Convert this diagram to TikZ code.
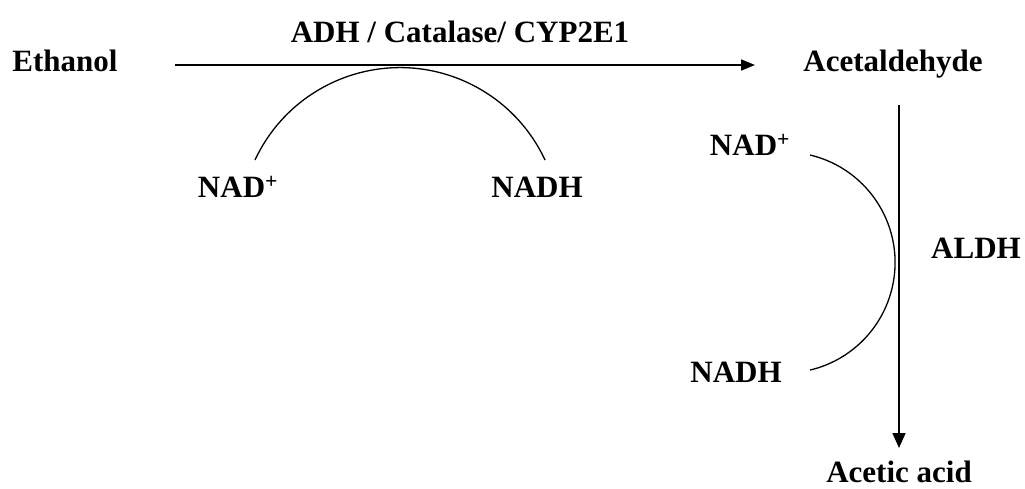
\documentclass[tikz,border=0pt]{standalone}
\usepackage{fontspec}
\setmainfont{Liberation Serif}
\usetikzlibrary{arrows.meta}
\begin{document}
\begin{tikzpicture}[x=1pt,y=1pt,
  lbl/.style={inner sep=0pt, anchor=base, font=\fontsize{31}{37}\selectfont\bfseries},
  mainline/.style={line width=1.7pt},
  cofactor/.style={line width=1.3pt}]
\useasboundingbox[fill=white] (0,0) rectangle (1025,-489);
% labels
\node[lbl] (ethanol) at (65,-72) {Ethanol};
\node[lbl] (enz1) at (460,-43) {ADH / Catalase/ CYP2E1};
\node[lbl] (acet) at (893,-72) {Acetaldehyde};
\node[lbl] (nadp1) at (238,-198) {NAD\textsuperscript{+}};
\node[lbl] (nadh1) at (537,-198) {NADH};
\node[lbl] (nadp2) at (750,-156) {NAD\textsuperscript{+}};
\node[lbl] (aldh) at (976,-258) {ALDH};
\node[lbl] (nadh2) at (736,-382) {NADH};
\node[lbl] (acetic) at (899,-482) {Acetic acid};
% connector end points
\coordinate (h1) at (175,-65);
\coordinate (h2) at (755,-65);
\coordinate (v1) at (899,-105);
\coordinate (v2) at (899,-448);
\coordinate (c1s) at (255,-160);
\coordinate (c2s) at (810,-155);
% main arrows
\draw[mainline,-{Triangle[length=14pt,width=11pt]}] (h1) -- (h2);
\draw[mainline,-{Triangle[length=15pt,width=13pt]}] (v1) -- (v2);
% cofactor arcs
\draw[cofactor] (c1s) arc[start angle=155, end angle=25, radius=160];
\draw[cofactor] (c2s) arc[start angle=76.7, end angle=-76.7, radius=110.5];
\end{tikzpicture}
\end{document}
